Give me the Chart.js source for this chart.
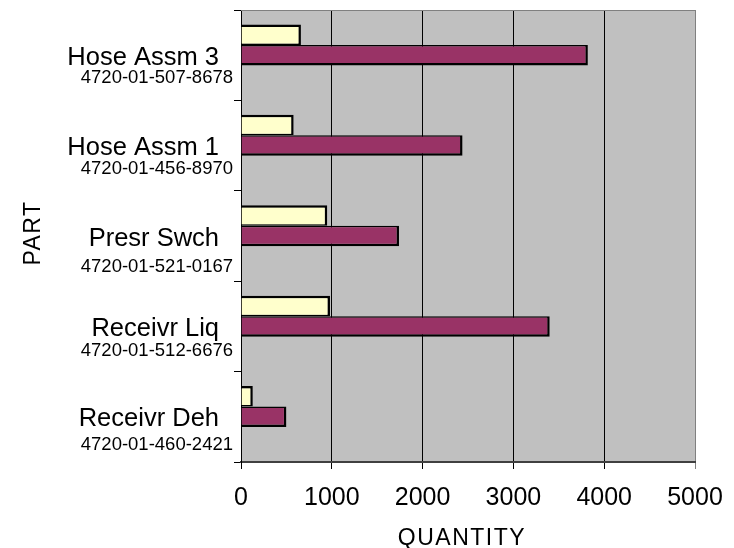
<!DOCTYPE html>
<html>
<head>
<meta charset="utf-8">
<title>Parts quantity</title>
<script src="https://cdn.jsdelivr.net/npm/chart.js@4/dist/chart.umd.min.js"></script>
<style>
  html, body { margin: 0; padding: 0; background: #ffffff; }
  #wrap { width: 734px; height: 548px; }
</style>
</head>
<body>
<div id="wrap"><canvas id="chart" width="734" height="548"></canvas></div>
<script>
// Part names and their stock numbers (one entry per row, top to bottom)
const partNames = ['Hose Assm 3', 'Hose Assm 1', 'Presr Swch', 'Receivr Liq', 'Receivr Deh'];
const partNumbers = ['4720-01-507-8678', '4720-01-456-8970', '4720-01-521-0167', '4720-01-512-6676', '4720-01-460-2421'];

// Quantities per part
const seriesOne = [660, 580, 950, 980, 130];
const seriesTwo = [3820, 2440, 1740, 3400, 500];
const seriesThree = [0, 0, 0, 0, 0];

// Quantity axis
const quantityTicks = [0, 1000, 2000, 3000, 4000, 5000];
const xTitle = 'QUANTITY';
const yTitle = 'PART';

// Vertical offsets of the stock-number line below each part name (px)
const numberLineOffset = [28, 28, 36, 30, 33];

const LABEL_FONT = '"Liberation Sans", Arial, sans-serif';

const decor = {
  id: 'decor',
  beforeDraw(chart) {
    const { ctx, chartArea: a } = chart;
    ctx.save();
    ctx.fillStyle = '#C0C0C0';
    ctx.fillRect(a.left, a.top, a.right - a.left, a.bottom - a.top);
    ctx.restore();
  },
  afterDraw(chart) {
    const { ctx, chartArea: a } = chart;
    const yScale = chart.scales.y;
    ctx.save();
    // top frame line of the plot area
    ctx.strokeStyle = '#808080';
    ctx.lineWidth = 1;
    ctx.beginPath();
    ctx.moveTo(a.left, a.top + 0.5);
    ctx.lineTo(a.right, a.top + 0.5);
    ctx.stroke();

    // two-line category labels
    ctx.fillStyle = '#000';
    ctx.textAlign = 'right';
    ctx.textBaseline = 'alphabetic';
    partNames.forEach((name, i) => {
      const yc = yScale.getPixelForValue(i);
      ctx.font = '25.5px ' + LABEL_FONT;
      ctx.fillText(name, a.left - 22, yc + 9.5);
      ctx.font = '18.5px ' + LABEL_FONT;
      ctx.fillText(partNumbers[i], a.left - 8, yc + numberLineOffset[i]);
    });

    // axis titles
    ctx.font = '23px ' + LABEL_FONT;
    ctx.textAlign = 'center';
    ctx.letterSpacing = '1.5px';
    ctx.fillText(xTitle, 462, 545);
    ctx.translate(40, 233);
    ctx.rotate(-Math.PI / 2);
    ctx.fillText(yTitle, 0, 0);
    ctx.restore();
  }
};

new Chart(document.getElementById('chart'), {
  type: 'bar',
  data: {
    labels: partNames,
    datasets: [
      {
        label: 'Series 1',
        data: seriesOne,
        backgroundColor: '#FFFFCC',
        borderColor: '#000000',
        borderWidth: { top: 2.5, right: 2.5, bottom: 1.5, left: 0 },
        borderSkipped: 'start',
        inflateAmount: 0
      },
      {
        label: 'Series 2',
        data: seriesTwo,
        backgroundColor: '#993366',
        borderColor: '#000000',
        borderWidth: { top: 1.5, right: 2.5, bottom: 2.5, left: 0 },
        borderSkipped: 'start',
        inflateAmount: 0
      },
      {
        label: 'Series 3',
        data: seriesThree,
        backgroundColor: 'rgba(0,0,0,0)',
        borderWidth: 0
      }
    ]
  },
  options: {
    indexAxis: 'y',
    responsive: false,
    animation: false,
    devicePixelRatio: 1,
    categoryPercentage: 0.68,
    barPercentage: 1,
    layout: { padding: { left: 0, top: 10, right: 39, bottom: 0 } },
    plugins: {
      legend: { display: false },
      tooltip: { enabled: false }
    },
    scales: {
      x: {
        type: 'linear',
        position: 'bottom',
        min: quantityTicks[0],
        max: quantityTicks[quantityTicks.length - 1],
        afterBuildTicks(scale) {
          scale.ticks = quantityTicks.map(v => ({ value: v }));
        },
        afterFit(scale) {
          scale.height = 86;
          scale.paddingLeft = 0;
          scale.paddingRight = 0;
        },
        grid: {
          color: (c) => (c.tick && c.tick.value === 5000 ? '#808080' : '#000000'),
          lineWidth: 1,
          drawTicks: true,
          tickLength: 7
        },
        border: { display: true, color: '#404040', width: 2 },
        ticks: {
          color: '#000',
          font: { family: LABEL_FONT, size: 25 },
          padding: 14,
          maxRotation: 0,
          callback: (v) => String(v)
        }
      },
      y: {
        type: 'category',
        position: 'left',
        afterFit(scale) { scale.width = 241; },
        grid: {
          offset: true,
          drawOnChartArea: false,
          drawTicks: true,
          tickLength: 7,
          color: '#000000'
        },
        border: { display: true, color: '#000000', width: 1 },
        ticks: { display: false }
      }
    }
  },
  plugins: [decor]
});
</script>
</body>
</html>
